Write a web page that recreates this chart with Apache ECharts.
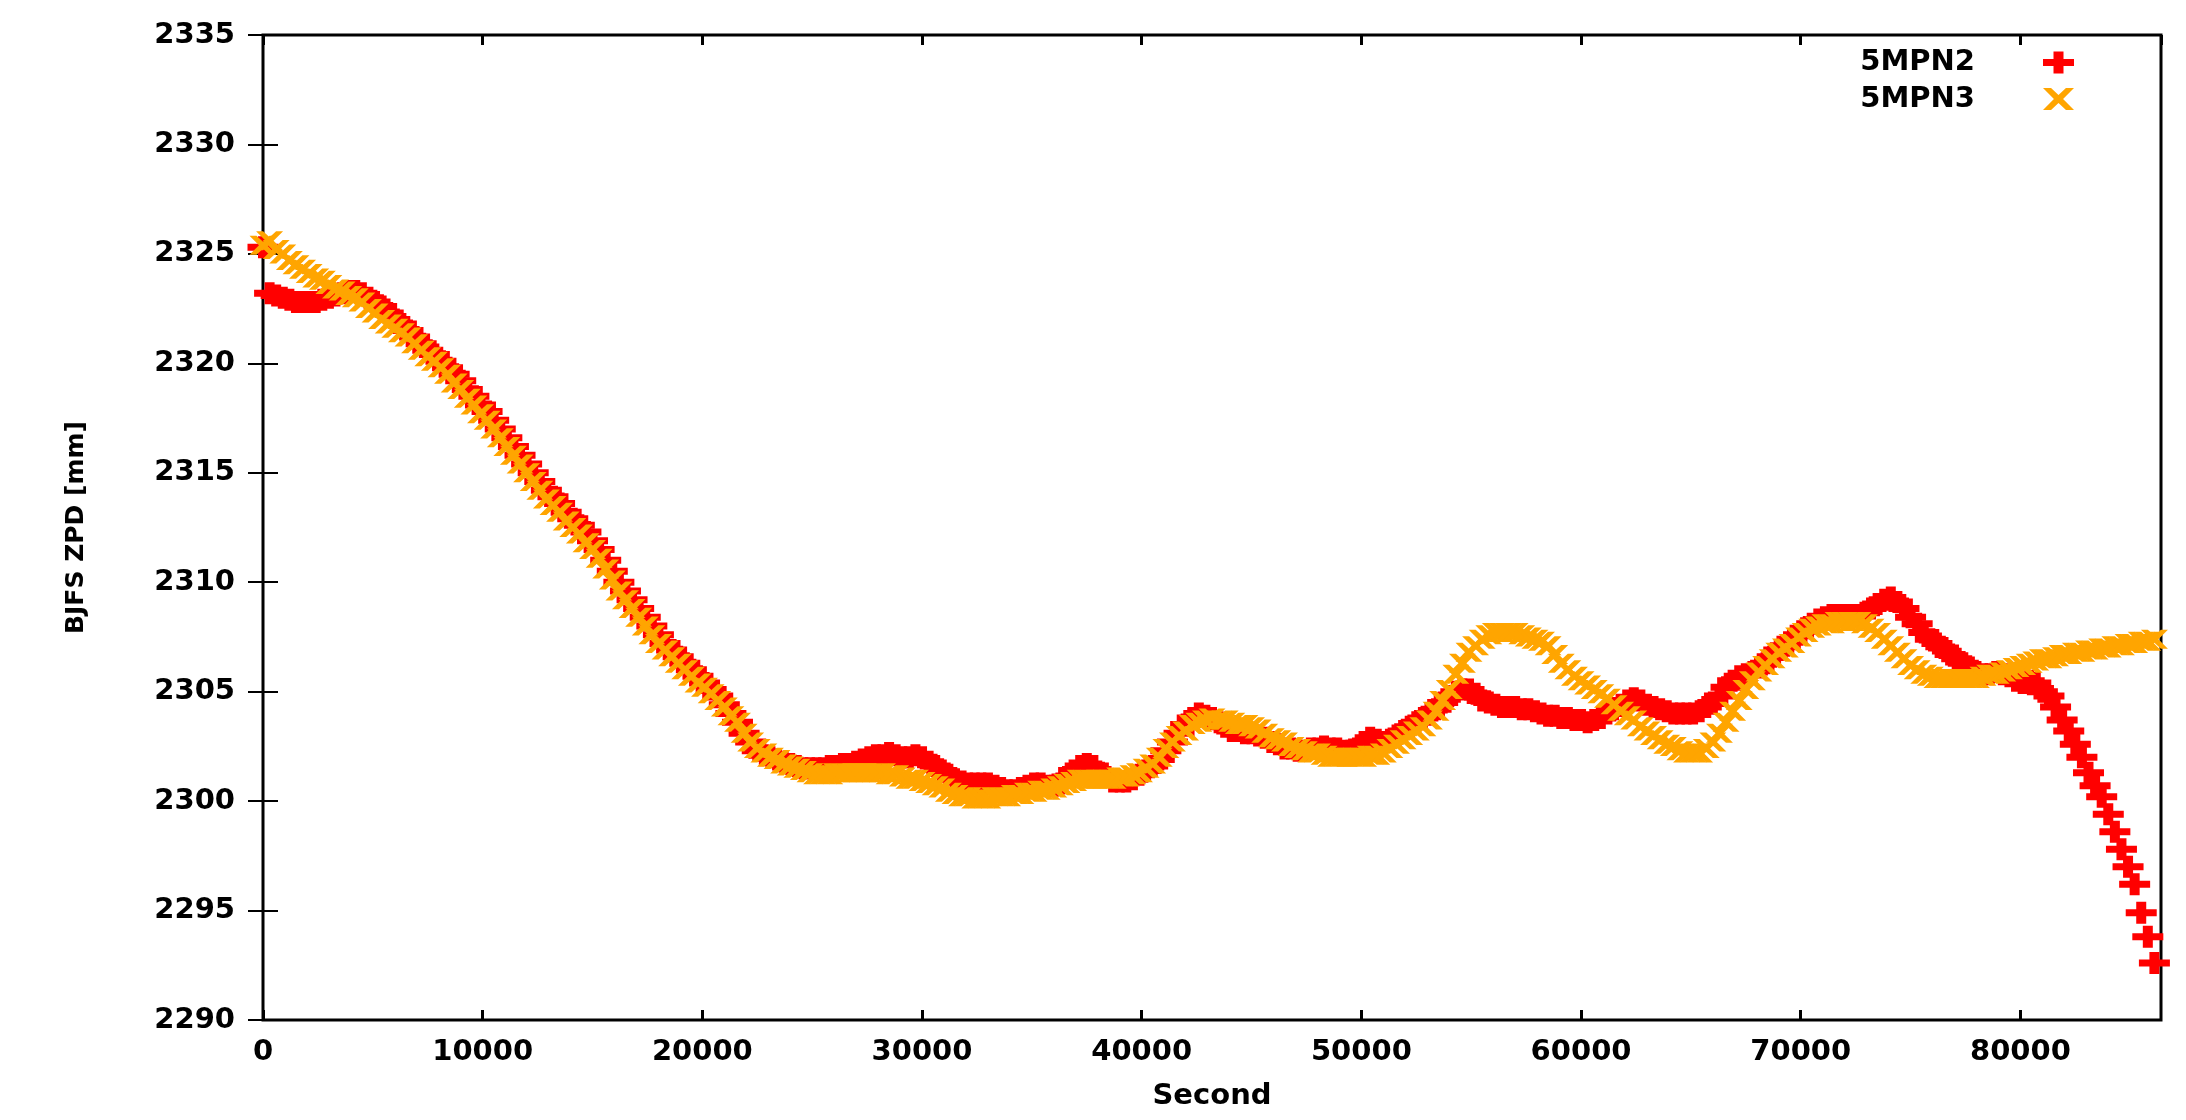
<!DOCTYPE html>
<html>
<head>
<meta charset="utf-8">
<script src="https://cdn.jsdelivr.net/npm/echarts@6/dist/echarts.min.js"></script>
<style>
html,body{margin:0;padding:0;background:#fff;}
#chart{width:2186px;height:1120px;}
</style>
</head>
<body>
<div id="chart"></div>
<script>
// Sampling of the time axis (seconds)
const T0 = 0;
const STEP = 300;

const seriesNames = ['5MPN2', '5MPN3'];
const yTicks = [2290, 2295, 2300, 2305, 2310, 2315, 2320, 2325, 2330, 2335];
const xTicks = [0, 10000, 20000, 30000, 40000, 50000, 60000, 70000, 80000];

// 5MPN2 ZPD values (mm), one every 300 s
const mpn2 = [
  2325.3, 2323.2, 2323.1, 2323.0, 2322.9, 2322.8, 2322.8, 2322.8, 2322.8, 2322.9,
  2323.0, 2323.1, 2323.2, 2323.3, 2323.3, 2323.2, 2323.0, 2322.8, 2322.6, 2322.3,
  2322.0, 2321.8, 2321.5, 2321.2, 2320.9, 2320.6, 2320.4, 2320.1, 2319.8, 2319.5,
  2319.2, 2318.8, 2318.5, 2318.1, 2317.8, 2317.4, 2317.0, 2316.6, 2316.2, 2315.8,
  2315.4, 2315.0, 2314.6, 2314.2, 2313.9, 2313.6, 2313.2, 2312.9, 2312.6, 2312.3,
  2311.9, 2311.5, 2311.0, 2310.5, 2310.0, 2309.6, 2309.2, 2308.8, 2308.4, 2308.0,
  2307.6, 2307.2, 2306.9, 2306.6, 2306.3, 2306.0, 2305.7, 2305.4, 2305.1, 2304.8,
  2304.4, 2304.0, 2303.6, 2303.1, 2302.7, 2302.3, 2302.1, 2302.0, 2301.9, 2301.8,
  2301.7, 2301.6, 2301.5, 2301.5, 2301.5, 2301.5, 2301.6, 2301.6, 2301.7, 2301.7,
  2301.8, 2301.9, 2302.0, 2302.1, 2302.1, 2302.2, 2302.1, 2302.0, 2302.0, 2302.1,
  2302.0, 2301.8, 2301.6, 2301.4, 2301.2, 2301.0, 2300.9, 2300.8, 2300.8, 2300.8,
  2300.8, 2300.7, 2300.6, 2300.5, 2300.5, 2300.6, 2300.7, 2300.8, 2300.8, 2300.7,
  2300.7, 2300.8, 2301.1, 2301.4, 2301.6, 2301.7, 2301.6, 2301.3, 2301.1, 2300.9,
  2300.9, 2300.9, 2301.0, 2301.2, 2301.4, 2301.6, 2301.9, 2302.3, 2302.7, 2303.1,
  2303.5, 2303.8, 2304.0, 2303.9, 2303.8, 2303.6, 2303.4, 2303.2, 2303.2, 2303.1,
  2303.1, 2303.0, 2302.9, 2302.7, 2302.6, 2302.4, 2302.4, 2302.3, 2302.3, 2302.4,
  2302.4, 2302.5, 2302.4, 2302.4, 2302.3, 2302.3, 2302.4, 2302.7, 2302.9, 2302.8,
  2302.7, 2302.8, 2303.0, 2303.2, 2303.4, 2303.6, 2303.8, 2304.0, 2304.2, 2304.5,
  2304.8, 2305.0, 2305.1, 2305.1, 2304.9, 2304.6, 2304.5, 2304.4, 2304.3, 2304.3,
  2304.3, 2304.2, 2304.2, 2304.1, 2304.0, 2303.9, 2303.9, 2303.8, 2303.8, 2303.7,
  2303.7, 2303.6, 2303.7, 2303.8, 2304.0, 2304.2, 2304.4, 2304.6, 2304.7, 2304.6,
  2304.4, 2304.3, 2304.2, 2304.1, 2304.0, 2304.0, 2304.0, 2304.0, 2304.1, 2304.3,
  2304.5, 2304.8, 2305.2, 2305.5, 2305.7, 2305.8, 2305.9, 2306.1, 2306.3, 2306.6,
  2306.9, 2307.1, 2307.4, 2307.6, 2307.9, 2308.1, 2308.3, 2308.4, 2308.5, 2308.5,
  2308.5, 2308.5, 2308.5, 2308.6, 2308.8, 2309.0, 2309.2, 2309.3, 2309.1, 2308.8,
  2308.4, 2308.1, 2307.7, 2307.4, 2307.2, 2307.0, 2306.7, 2306.5, 2306.3, 2306.1,
  2305.9, 2305.8, 2305.8, 2305.9, 2305.8, 2305.7, 2305.5, 2305.4, 2305.5, 2305.4,
  2305.0, 2304.8, 2304.3, 2303.7, 2303.2, 2302.6, 2302.0, 2301.3, 2300.7, 2300.2,
  2299.4, 2298.6, 2297.8, 2297.0, 2296.2, 2294.9, 2293.8, 2292.6
];

// 5MPN3 ZPD values (mm), one every 300 s
const mpn3 = [
  2325.4, 2325.6, 2325.2, 2325.0, 2324.7, 2324.5, 2324.3, 2324.1, 2323.9, 2323.8,
  2323.6, 2323.4, 2323.3, 2323.1, 2323.0, 2322.8, 2322.5, 2322.3, 2322.0, 2321.8,
  2321.6, 2321.4, 2321.2, 2320.9, 2320.6, 2320.3, 2320.1, 2319.8, 2319.5, 2319.1,
  2318.8, 2318.4, 2318.1, 2317.7, 2317.4, 2317.0, 2316.6, 2316.2, 2315.8, 2315.4,
  2315.0, 2314.6, 2314.2, 2313.8, 2313.5, 2313.2, 2312.8, 2312.5, 2312.2, 2311.8,
  2311.5, 2311.1, 2310.6, 2310.1, 2309.6, 2309.2, 2308.8, 2308.4, 2308.0, 2307.6,
  2307.2, 2306.9, 2306.6, 2306.3, 2306.0, 2305.7, 2305.4, 2305.2, 2304.9, 2304.6,
  2304.3, 2303.9, 2303.6, 2303.1, 2302.7, 2302.4, 2302.2, 2302.0, 2301.9, 2301.7,
  2301.6, 2301.5, 2301.4, 2301.3, 2301.2, 2301.2, 2301.2, 2301.3, 2301.3, 2301.3,
  2301.3, 2301.3, 2301.3, 2301.3, 2301.3, 2301.2, 2301.2, 2301.1, 2301.0, 2301.0,
  2300.9, 2300.8, 2300.7, 2300.6, 2300.4, 2300.3, 2300.2, 2300.2, 2300.1, 2300.1,
  2300.1, 2300.2, 2300.2, 2300.2, 2300.3, 2300.3, 2300.4, 2300.4, 2300.5, 2300.5,
  2300.6, 2300.7, 2300.8, 2300.9, 2301.0, 2301.0, 2301.0, 2301.0, 2301.0, 2301.0,
  2301.1, 2301.1, 2301.2, 2301.3, 2301.5, 2301.7, 2302.0, 2302.4, 2302.7, 2303.0,
  2303.2, 2303.5, 2303.6, 2303.7, 2303.8, 2303.7, 2303.7, 2303.6, 2303.5, 2303.5,
  2303.4, 2303.3, 2303.1, 2302.9, 2302.8, 2302.7, 2302.5, 2302.4, 2302.3, 2302.2,
  2302.2, 2302.1, 2302.0, 2302.0, 2302.0, 2302.0, 2302.0, 2302.0, 2302.1, 2302.1,
  2302.2, 2302.4, 2302.6, 2302.8, 2303.0, 2303.2, 2303.4, 2303.7, 2304.1, 2304.6,
  2305.1, 2305.8, 2306.3, 2306.8, 2307.1, 2307.4, 2307.6, 2307.7, 2307.7, 2307.7,
  2307.7, 2307.6, 2307.5, 2307.4, 2307.3, 2307.1, 2306.7, 2306.3, 2306.0, 2305.7,
  2305.5, 2305.3, 2305.1, 2304.9, 2304.7, 2304.4, 2304.1, 2303.9, 2303.7, 2303.4,
  2303.2, 2303.0, 2302.8, 2302.6, 2302.5, 2302.3, 2302.2, 2302.2, 2302.2, 2302.4,
  2302.7, 2303.1, 2303.6, 2304.1, 2304.6, 2305.1, 2305.5, 2305.9, 2306.2, 2306.5,
  2306.8, 2307.0, 2307.2, 2307.5, 2307.7, 2307.9, 2308.0, 2308.1, 2308.1, 2308.2,
  2308.2, 2308.2, 2308.2, 2308.1, 2307.9, 2307.7, 2307.4, 2307.1, 2306.8, 2306.5,
  2306.2, 2306.0, 2305.8, 2305.7, 2305.6, 2305.6, 2305.6, 2305.6, 2305.6, 2305.6,
  2305.6, 2305.7, 2305.8, 2305.8, 2305.9, 2306.0, 2306.1, 2306.2, 2306.3, 2306.4,
  2306.5, 2306.5, 2306.6, 2306.7, 2306.7, 2306.8, 2306.8, 2306.9, 2306.9, 2307.0,
  2307.0, 2307.1, 2307.1, 2307.2, 2307.2, 2307.3, 2307.3, 2307.4
];

const PLUS = 'path://M10.5,0 H20.5 V7.5 H31 V14.5 H20.5 V22 H10.5 V14.5 H0 V7.5 H10.5 Z';
const CROSS = 'path://M0,0 H7 L13.5,6 L20,0 H27 L17.5,9.5 L27,19 H20 L13.5,13 L7,19 H0 L9.5,9.5 Z';

function pairs(vals) {
  return vals.map((v, i) => [T0 + i * STEP, v]);
}

const FONT = 'DejaVu Sans';
const chart = echarts.init(document.getElementById('chart'), null, {renderer: 'canvas'});
const option = {
  animation: false,
  backgroundColor: '#ffffff',
  grid: {
    left: 263, right: 25, top: 35, bottom: 100,
    show: true, borderColor: '#000', borderWidth: 3, backgroundColor: 'transparent',
    outerBoundsMode: 'none'
  },
  legend: {
    orient: 'vertical',
    right: 112, top: 48,
    padding: 0,
    align: 'right',
    itemWidth: 31, itemHeight: 22, itemGap: 7.5,
    data: [
      {name: seriesNames[0], icon: PLUS},
      {name: seriesNames[1], icon: CROSS}
    ],
    formatter: '{a|{name}}',
    textStyle: {
      fontFamily: FONT, fontWeight: 'bold', fontSize: 29, color: '#000', lineHeight: 22,
      rich: {a: {fontFamily: FONT, fontWeight: 'bold', fontSize: 29, color: '#000', lineHeight: 22, padding: [0, 63, 0, 0]}}
    }
  },
  xAxis: [{
    type: 'value', position: 'bottom',
    min: 0, max: 86400, interval: 10000,
    name: 'Second', nameLocation: 'middle', nameGap: 62,
    nameTextStyle: {fontFamily: FONT, fontWeight: 'bold', fontSize: 29, color: '#000'},
    axisLine: {show: false},
    axisTick: {show: true, inside: true, length: 10, lineStyle: {color: '#000', width: 3}},
    axisLabel: {
      margin: 18, fontFamily: FONT, fontWeight: 'bold', fontSize: 29, color: '#000',
      showMaxLabel: false,
      formatter: v => xTicks.indexOf(v) >= 0 ? String(v) : ''
    },
    splitLine: {show: false}
  }, {
    type: 'value', position: 'top',
    min: 0, max: 86400, interval: 10000,
    axisLine: {show: false},
    axisTick: {show: true, inside: true, length: 10, lineStyle: {color: '#000', width: 3}},
    axisLabel: {show: false},
    splitLine: {show: false}
  }],
  yAxis: [{
    type: 'value', position: 'left',
    min: yTicks[0], max: yTicks[yTicks.length - 1], interval: 5,
    name: 'BJFS ZPD [mm]', nameLocation: 'middle', nameGap: 174, nameRotate: 90,
    nameTextStyle: {fontFamily: FONT, fontWeight: 'bold', fontSize: 25, color: '#000'},
    axisLine: {show: false},
    axisTick: {show: true, inside: true, length: 15, lineStyle: {color: '#000', width: 2}},
    axisLabel: {
      margin: 28, fontFamily: FONT, fontWeight: 'bold', fontSize: 29, color: '#000',
      formatter: v => yTicks.indexOf(v) >= 0 ? String(v) : ''
    },
    splitLine: {show: false}
  }, {
    type: 'value', position: 'right',
    min: yTicks[0], max: yTicks[yTicks.length - 1], interval: 5,
    axisLine: {show: false},
    axisTick: {show: true, inside: true, length: 15, lineStyle: {color: '#000', width: 2}},
    axisLabel: {show: false},
    splitLine: {show: false}
  }],
  series: [{
    name: seriesNames[0], type: 'scatter', xAxisIndex: 0, yAxisIndex: 0,
    data: pairs(mpn2), symbol: PLUS, symbolSize: [31, 22], clip: false,
    itemStyle: {color: '#ff0000', opacity: 1},
    emphasis: {disabled: true}
  }, {
    name: seriesNames[1], type: 'scatter', xAxisIndex: 0, yAxisIndex: 0,
    data: pairs(mpn3), symbol: CROSS, symbolSize: [27, 19], clip: false,
    itemStyle: {color: '#ffa500', opacity: 1},
    emphasis: {disabled: true}
  }]
};
chart.setOption(option);
</script>
</body>
</html>
